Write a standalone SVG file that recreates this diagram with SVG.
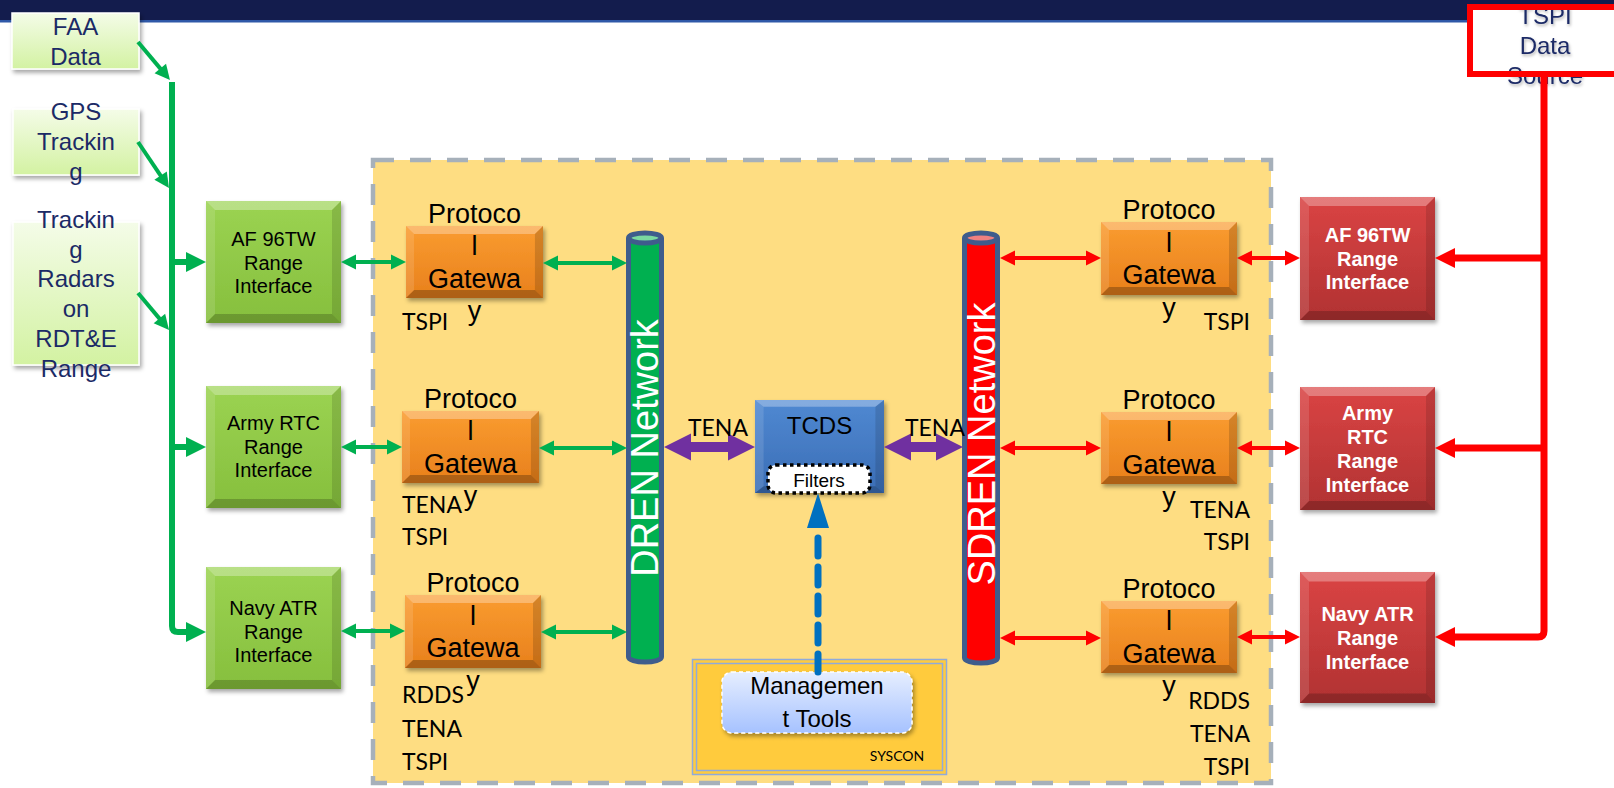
<svg xmlns="http://www.w3.org/2000/svg" xmlns:xlink="http://www.w3.org/1999/xlink" width="1614" height="788" viewBox="0 0 1614 788">
<style>
.t{font-family:"Liberation Sans",Arial,sans-serif}
.gw{font-size:27px;fill:#000;text-anchor:middle}
.gr{font-size:20px;fill:#000;text-anchor:middle}
.rd{font-size:20px;font-weight:bold;fill:#fff;text-anchor:middle}
.in{font-size:24px;fill:#1B2A66;text-anchor:middle}
.cal{font-family:Lato,"Liberation Sans",sans-serif;font-size:23px;fill:#000}
.net{font-size:38px;fill:#fff;text-anchor:middle}
.ga{stroke:#00B050;stroke-width:4;fill:none}
.gb{stroke:#00B050;stroke-width:6;fill:none}
.ra{stroke:#FF0000;stroke-width:4;fill:none}
.rb{stroke:#FF0000;stroke-width:7;fill:none}
.tube{stroke:#3F5C8C;stroke-width:5}
</style>
<defs>
<linearGradient id="gGreen" x1="0" y1="0" x2="0" y2="1"><stop offset="0" stop-color="#9BD352"/><stop offset="1" stop-color="#86BF3D"/></linearGradient>
<linearGradient id="gOrange" x1="0" y1="0" x2="0" y2="1"><stop offset="0" stop-color="#FA9C30"/><stop offset="1" stop-color="#E8801C"/></linearGradient>
<linearGradient id="gRed" x1="0" y1="0" x2="0" y2="1"><stop offset="0" stop-color="#DA4444"/><stop offset="1" stop-color="#B13232"/></linearGradient>
<linearGradient id="gBlue" x1="0" y1="0" x2="0" y2="1"><stop offset="0" stop-color="#5089D2"/><stop offset="1" stop-color="#3A6DB5"/></linearGradient>
<linearGradient id="gLight" x1="0" y1="0" x2="0" y2="1"><stop offset="0" stop-color="#F4FCE8"/><stop offset="1" stop-color="#D3F2A2"/></linearGradient>
<linearGradient id="gMgmt" x1="0" y1="0" x2="0" y2="1"><stop offset="0" stop-color="#E6EEFF"/><stop offset="1" stop-color="#A6C2FF"/></linearGradient>
<filter id="sh" x="-10%" y="-10%" width="130%" height="130%"><feDropShadow dx="2" dy="3" stdDeviation="2" flood-color="#000" flood-opacity="0.35"/></filter>
<filter id="tsh" x="-10%" y="-10%" width="130%" height="140%"><feDropShadow dx="1" dy="2" stdDeviation="1.5" flood-color="#000" flood-opacity="0.3"/></filter>
<symbol id="bv" viewBox="0 0 135 123" preserveAspectRatio="none">
<polygon points="0,0 135,0 126,9 9,9" fill="#fff" fill-opacity="0.3"/>
<polygon points="0,123 135,123 126,114 9,114" fill="#000" fill-opacity="0.2"/>
<polygon points="0,0 9,9 9,114 0,123" fill="#fff" fill-opacity="0.12"/>
<polygon points="135,0 126,9 126,114 135,123" fill="#000" fill-opacity="0.12"/>
</symbol>
<symbol id="bvg" viewBox="0 0 136 72" preserveAspectRatio="none">
<polygon points="0,0 136,0 128,8 8,8" fill="#fff" fill-opacity="0.3"/>
<polygon points="0,72 136,72 128,64 8,64" fill="#000" fill-opacity="0.25"/>
<polygon points="0,0 8,8 8,64 0,72" fill="#fff" fill-opacity="0.12"/>
<polygon points="136,0 128,8 128,64 136,72" fill="#000" fill-opacity="0.15"/>
</symbol>
<marker id="mg" markerUnits="userSpaceOnUse" markerWidth="16" markerHeight="16" refX="7" refY="7.5" orient="auto-start-reverse" overflow="visible"><path d="M0,0 L15,7.5 L0,15 Z" fill="#00B050"/></marker>
<marker id="mgb" markerUnits="userSpaceOnUse" markerWidth="20" markerHeight="20" refX="8" refY="10" orient="auto-start-reverse" overflow="visible"><path d="M0,0 L20,10 L0,20 Z" fill="#00B050"/></marker>
<marker id="mr" markerUnits="userSpaceOnUse" markerWidth="16" markerHeight="16" refX="7" refY="7.5" orient="auto-start-reverse" overflow="visible"><path d="M0,0 L15,7.5 L0,15 Z" fill="#FF0000"/></marker>
<marker id="mrb" markerUnits="userSpaceOnUse" markerWidth="20" markerHeight="20" refX="8" refY="10" orient="auto-start-reverse" overflow="visible"><path d="M0,0 L20,10 L0,20 Z" fill="#FF0000"/></marker>
<clipPath id="clipTop"><rect x="0" y="9" width="1614" height="779"/></clipPath>
</defs>

<!-- title bar -->
<rect x="0" y="0" width="1614" height="20" fill="#131C4D"/>
<rect x="0" y="20" width="1614" height="2.5" fill="#2F58A8"/>

<!-- container -->
<g id="container">
<rect x="373" y="160" width="898" height="623" fill="#FEDD82" stroke="#A6B0BA" stroke-width="4.5" stroke-dasharray="21 16"/>
</g>

<!-- input boxes -->
<g id="faa" class="t">
<rect x="12" y="13" width="127" height="56" fill="url(#gLight)" stroke="#fff" stroke-width="1.5" filter="url(#sh)"/>
<text class="in" x="75.5" y="35">FAA</text>
<text class="in" x="75.5" y="65">Data</text>
</g>
<g id="gps" class="t">
<rect x="13" y="109" width="126" height="66" fill="url(#gLight)" stroke="#fff" stroke-width="1.5" filter="url(#sh)"/>
<text class="in" x="76" y="120">GPS</text>
<text class="in" x="76" y="150">Trackin</text>
<text class="in" x="76" y="180">g</text>
</g>
<g id="radars" class="t">
<rect x="13" y="222" width="126" height="143" fill="url(#gLight)" stroke="#fff" stroke-width="1.5" filter="url(#sh)"/>
<text class="in" x="76" y="228">Trackin</text>
<text class="in" x="76" y="258">g</text>
<text class="in" x="76" y="287">Radars</text>
<text class="in" x="76" y="317">on</text>
<text class="in" x="76" y="347">RDT&amp;E</text>
<text class="in" x="76" y="377">Range</text>
</g>

<!-- TSPI data source -->
<g id="tspisrc" class="t">
<rect x="1470" y="7" width="200" height="67" fill="#fff"/>
<g clip-path="url(#clipTop)" filter="url(#tsh)">
<text class="in" x="1545" y="24">TSPI</text>
<text class="in" x="1545" y="54">Data</text>
<text class="in" x="1545" y="84">Source</text>
</g>
<rect x="1470" y="7" width="200" height="67" fill="none" stroke="#FF0000" stroke-width="6"/>
</g>

<!-- green range interfaces -->
<g id="af-green" class="t">
<rect x="206" y="201" width="135" height="122" fill="url(#gGreen)" filter="url(#sh)"/>
<use href="#bv" x="206" y="201" width="135" height="122"/>
<text class="gr" x="273.5" y="246">AF 96TW</text>
<text class="gr" x="273.5" y="270">Range</text>
<text class="gr" x="273.5" y="293">Interface</text>
</g>
<g id="army-green" class="t">
<rect x="206" y="386" width="135" height="122" fill="url(#gGreen)" filter="url(#sh)"/>
<use href="#bv" x="206" y="386" width="135" height="122"/>
<text class="gr" x="273.5" y="430">Army RTC</text>
<text class="gr" x="273.5" y="454">Range</text>
<text class="gr" x="273.5" y="477">Interface</text>
</g>
<g id="navy-green" class="t">
<rect x="206" y="567" width="135" height="122" fill="url(#gGreen)" filter="url(#sh)"/>
<use href="#bv" x="206" y="567" width="135" height="122"/>
<text class="gr" x="273.5" y="615">Navy ATR</text>
<text class="gr" x="273.5" y="639">Range</text>
<text class="gr" x="273.5" y="662">Interface</text>
</g>

<!-- red range interfaces -->
<g id="af-red" class="t">
<rect x="1300" y="197" width="135" height="123" fill="url(#gRed)" filter="url(#sh)"/>
<use href="#bv" x="1300" y="197" width="135" height="123"/>
<text class="rd" x="1367.5" y="242">AF 96TW</text>
<text class="rd" x="1367.5" y="266">Range</text>
<text class="rd" x="1367.5" y="289">Interface</text>
</g>
<g id="army-red" class="t">
<rect x="1300" y="387" width="135" height="123" fill="url(#gRed)" filter="url(#sh)"/>
<use href="#bv" x="1300" y="387" width="135" height="123"/>
<text class="rd" x="1367.5" y="420">Army</text>
<text class="rd" x="1367.5" y="444">RTC</text>
<text class="rd" x="1367.5" y="468">Range</text>
<text class="rd" x="1367.5" y="492">Interface</text>
</g>
<g id="navy-red" class="t">
<rect x="1300" y="572" width="135" height="131" fill="url(#gRed)" filter="url(#sh)"/>
<use href="#bv" x="1300" y="572" width="135" height="131"/>
<text class="rd" x="1367.5" y="621">Navy ATR</text>
<text class="rd" x="1367.5" y="645">Range</text>
<text class="rd" x="1367.5" y="669">Interface</text>
</g>

<!-- protocol gateways left -->
<g id="gw-l1" class="t">
<rect x="406" y="226" width="137" height="72" fill="url(#gOrange)" filter="url(#sh)"/>
<use href="#bvg" x="406" y="226" width="137" height="72"/>
<text class="gw" x="474.5" y="222.5">Protoco</text>
<text class="gw" x="474.5" y="255">l</text>
<text class="gw" x="474.5" y="287.5">Gatewa</text>
<text class="gw" x="474.5" y="320">y</text>
<text class="cal" x="402" y="330">TSPI</text>
</g>
<g id="gw-l2" class="t">
<rect x="402" y="411" width="137" height="72" fill="url(#gOrange)" filter="url(#sh)"/>
<use href="#bvg" x="402" y="411" width="137" height="72"/>
<text class="gw" x="470.5" y="407.5">Protoco</text>
<text class="gw" x="470.5" y="440">l</text>
<text class="gw" x="470.5" y="472.5">Gatewa</text>
<text class="gw" x="470.5" y="505">y</text>
<text class="cal" x="402" y="513">TENA</text>
<text class="cal" x="402" y="545">TSPI</text>
</g>
<g id="gw-l3" class="t">
<rect x="405" y="595" width="136" height="73" fill="url(#gOrange)" filter="url(#sh)"/>
<use href="#bvg" x="405" y="595" width="136" height="73"/>
<text class="gw" x="473" y="592">Protoco</text>
<text class="gw" x="473" y="624.5">l</text>
<text class="gw" x="473" y="657">Gatewa</text>
<text class="gw" x="473" y="689.5">y</text>
<text class="cal" x="402" y="703">RDDS</text>
<text class="cal" x="402" y="737">TENA</text>
<text class="cal" x="402" y="770">TSPI</text>
</g>

<!-- protocol gateways right -->
<g id="gw-r1" class="t">
<rect x="1101" y="222" width="136" height="73" fill="url(#gOrange)" filter="url(#sh)"/>
<use href="#bvg" x="1101" y="222" width="136" height="73"/>
<text class="gw" x="1169" y="219">Protoco</text>
<text class="gw" x="1169" y="251.5">l</text>
<text class="gw" x="1169" y="284">Gatewa</text>
<text class="gw" x="1169" y="316.5">y</text>
<text class="cal" x="1250" y="330" text-anchor="end">TSPI</text>
</g>
<g id="gw-r2" class="t">
<rect x="1101" y="412" width="136" height="72" fill="url(#gOrange)" filter="url(#sh)"/>
<use href="#bvg" x="1101" y="412" width="136" height="72"/>
<text class="gw" x="1169" y="408.5">Protoco</text>
<text class="gw" x="1169" y="441">l</text>
<text class="gw" x="1169" y="473.5">Gatewa</text>
<text class="gw" x="1169" y="506">y</text>
<text class="cal" x="1250" y="518" text-anchor="end">TENA</text>
<text class="cal" x="1250" y="550" text-anchor="end">TSPI</text>
</g>
<g id="gw-r3" class="t">
<rect x="1101" y="601" width="136" height="72" fill="url(#gOrange)" filter="url(#sh)"/>
<use href="#bvg" x="1101" y="601" width="136" height="72"/>
<text class="gw" x="1169" y="597.5">Protoco</text>
<text class="gw" x="1169" y="630">l</text>
<text class="gw" x="1169" y="662.5">Gatewa</text>
<text class="gw" x="1169" y="695">y</text>
<text class="cal" x="1250" y="709" text-anchor="end">RDDS</text>
<text class="cal" x="1250" y="742" text-anchor="end">TENA</text>
<text class="cal" x="1250" y="775" text-anchor="end">TSPI</text>
</g>

<!-- networks -->
<g id="dren" class="t">
<path class="tube" d="M628.5,238 V657 A16.5,5 0 0 0 661.5,657 V238" fill="#00B050"/>
<ellipse class="tube" cx="645" cy="238" rx="16.5" ry="5" fill="#7AD9A0"/>
<text class="net" transform="translate(658,448) rotate(-90)">DREN Network</text>
</g>
<g id="sdren" class="t">
<path class="tube" d="M964.5,238 V658 A16.5,5 0 0 0 997.5,658 V238" fill="#FF0000"/>
<ellipse class="tube" cx="981" cy="238" rx="16.5" ry="5" fill="#F08080"/>
<text class="net" transform="translate(995,444) rotate(-90)">SDREN Network</text>
</g>

<!-- SYSCON -->
<g id="syscon" class="t">
<rect x="692.5" y="659.5" width="254" height="115" fill="#FFCB3D" stroke="#8FAADC" stroke-width="1.5"/>
<rect x="696.5" y="663.5" width="246" height="107" fill="none" stroke="#8FAADC" stroke-width="1.5"/>
<text class="cal" x="897" y="761" text-anchor="middle" style="font-size:14px">SYSCON</text>
</g>
<g id="mgmt" class="t">
<rect x="722" y="672" width="190" height="61" rx="10" fill="url(#gMgmt)" stroke="#fff" stroke-width="1.5" stroke-dasharray="4 3" filter="url(#sh)"/>
<text class="in" x="817" y="694" style="fill:#000">Managemen</text>
<text class="in" x="817" y="727" style="fill:#000">t Tools</text>
</g>

<!-- TCDS -->
<g id="tcds" class="t">
<rect x="755" y="400" width="129" height="93" fill="url(#gBlue)" filter="url(#sh)"/>
<use href="#bv" x="755" y="400" width="129" height="93"/>
<text class="in" x="819.5" y="434" style="fill:#000">TCDS</text>
</g>
<g id="filters" class="t">
<rect x="768" y="465" width="102" height="28" rx="8" fill="#fff" stroke="#000" stroke-width="3.5" stroke-dasharray="3.5 3.5"/>
<text x="819" y="487" text-anchor="middle" style="font-size:19px;fill:#000">Filters</text>
</g>

<!-- connectors -->
<g id="connectors">
<line class="ga" x1="138" y1="42" x2="164.8" y2="73.9" marker-end="url(#mg)"/>
<line class="ga" x1="138" y1="142" x2="164.5" y2="181.4" marker-end="url(#mg)"/>
<line class="ga" x1="138" y1="293" x2="163.9" y2="323.9" marker-end="url(#mg)"/>
<path class="gb" d="M172,82 V626 Q172,632 178,632 H194" marker-end="url(#mgb)"/>
<path class="gb" d="M172,262 H194" marker-end="url(#mgb)"/>
<path class="gb" d="M172,447 H194" marker-end="url(#mgb)"/>
<line class="ga" x1="349" y1="262" x2="398" y2="262" marker-start="url(#mg)" marker-end="url(#mg)"/>
<line class="ga" x1="349" y1="447" x2="394" y2="447" marker-start="url(#mg)" marker-end="url(#mg)"/>
<line class="ga" x1="349" y1="631" x2="397" y2="631" marker-start="url(#mg)" marker-end="url(#mg)"/>
<line class="ga" x1="551" y1="263" x2="619" y2="263" marker-start="url(#mg)" marker-end="url(#mg)"/>
<line class="ga" x1="547" y1="448" x2="619" y2="448" marker-start="url(#mg)" marker-end="url(#mg)"/>
<line class="ga" x1="549" y1="632" x2="619" y2="632" marker-start="url(#mg)" marker-end="url(#mg)"/>
<polygon points="664,447 691,433.5 691,442 728,442 728,433.5 755,447 728,460.5 728,452 691,452 691,460.5" fill="#7030A0"/>
<polygon points="884,447 911,433.5 911,442 936,442 936,433.5 963,447 936,460.5 936,452 911,452 911,460.5" fill="#7030A0"/>
<text class="cal" x="688" y="436">TENA</text>
<text class="cal" x="905" y="436">TENA</text>
<line x1="818" y1="672" x2="818" y2="532" stroke="#0070C0" stroke-width="7" stroke-dasharray="18 11" stroke-linecap="round"/>
<polygon points="818,493 807,528 829,528" fill="#0070C0"/>
<line class="ra" x1="1008" y1="258" x2="1093" y2="258" marker-start="url(#mr)" marker-end="url(#mr)"/>
<line class="ra" x1="1008" y1="448" x2="1093" y2="448" marker-start="url(#mr)" marker-end="url(#mr)"/>
<line class="ra" x1="1008" y1="638" x2="1093" y2="638" marker-start="url(#mr)" marker-end="url(#mr)"/>
<line class="ra" x1="1245" y1="258" x2="1292" y2="258" marker-start="url(#mr)" marker-end="url(#mr)"/>
<line class="ra" x1="1245" y1="448" x2="1292" y2="448" marker-start="url(#mr)" marker-end="url(#mr)"/>
<line class="ra" x1="1245" y1="637" x2="1292" y2="637" marker-start="url(#mr)" marker-end="url(#mr)"/>
<path class="rb" d="M1544,77 V631 Q1544,637 1538,637 H1447" marker-end="url(#mrb)"/>
<path class="rb" d="M1544,258 H1447" marker-end="url(#mrb)"/>
<path class="rb" d="M1544,448 H1447" marker-end="url(#mrb)"/>
</g>
</svg>
